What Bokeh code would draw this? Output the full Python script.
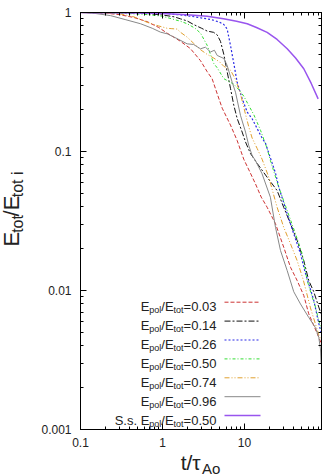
import math
from bokeh.plotting import figure
from bokeh.layouts import column, row
from bokeh.models import (LogAxis, FixedTicker, CustomJSTickFormatter, Label,
                          Arrow, Range1d)
from bokeh.core.properties import value
from bokeh.embed import file_html
from bokeh.resources import INLINE

# ---------------- data ----------------
t_003 = [0.1, 0.2, 0.3, 0.45, 0.65, 0.9, 1.14, 1.4, 1.66, 2.19, 2.91, 3.51, 4.03, 4.65, 5.35,
         6.75, 8.14, 9.8, 11.8, 13.6, 16, 18.9, 23.9, 30.1, 36.4, 43.9, 52.9, 60.8, 70, 77.1, 86]
e_003 = [1.0, 0.99, 0.965, 0.92, 0.86, 0.78, 0.71, 0.66, 0.62, 0.55, 0.45, 0.375, 0.334, 0.26, 0.205,
         0.155, 0.12, 0.088, 0.07, 0.0586, 0.047, 0.0397, 0.0302, 0.0205, 0.0147, 0.0118, 0.0092,
         0.0068, 0.0056, 0.0049, 0.0042]

t_014 = [0.1, 0.3, 0.6, 1.0, 1.4, 1.66, 2.0, 2.39, 3.0, 3.51, 4.2, 4.65, 5.1, 5.6, 6.15, 6.75,
         7.41, 8.14, 9.37, 10.3, 11.8, 14.3, 18.9, 25.0, 30.1, 36.4, 43.9, 52.9, 60.8, 70, 80.6, 86]
e_014 = [1.0, 0.997, 0.985, 0.96, 0.93, 0.9, 0.87, 0.82, 0.77, 0.735, 0.72, 0.69, 0.62, 0.5, 0.375,
         0.285, 0.215, 0.173, 0.138, 0.117, 0.097, 0.082, 0.0653, 0.0524, 0.0397, 0.0302, 0.0229,
         0.0164, 0.0118, 0.0098, 0.0076, 0.0068]

t_026 = [0.1, 0.5, 1.0, 1.66, 2.5, 3.5, 4.22, 5.0, 5.6, 6.15, 6.75, 7.41, 8.14, 9.37, 10.8, 12.4,
         14.3, 16.4, 18.0, 20.7, 23.9, 26.2, 33.2, 39.9, 48.2, 55, 63.8, 70, 80.6, 86]
e_026 = [1.0, 0.998, 0.99, 0.96, 0.93, 0.9, 0.88, 0.85, 0.82, 0.76, 0.58, 0.43, 0.315, 0.24, 0.192,
         0.172, 0.146, 0.125, 0.115, 0.09, 0.07, 0.0554, 0.0356, 0.0256, 0.0184, 0.0135, 0.0102,
         0.0085, 0.0058, 0.005]

t_050 = [0.1, 0.334, 0.6, 1.0, 1.3, 1.66, 2.0, 2.5, 2.91, 3.51, 4.22, 4.65, 5.6, 6.15, 7.41, 8.94,
         9.8, 11.3, 13.0, 15.7, 18.9, 20.7, 26.2, 33.2, 41.9, 50.6, 58.2, 66, 73.5, 80, 86]
e_050 = [1.0, 0.985, 0.97, 0.94, 0.9, 0.865, 0.83, 0.77, 0.71, 0.58, 0.43, 0.4, 0.334, 0.324, 0.305,
         0.27, 0.25, 0.214, 0.184, 0.142, 0.105, 0.0861, 0.0554, 0.0376, 0.0256, 0.0184, 0.0118,
         0.0092, 0.0076, 0.0062, 0.0053]

t_074 = [0.1, 0.3, 0.45, 0.65, 0.9, 1.14, 1.3, 1.51, 1.66, 2.0, 2.4, 2.91, 3.5, 4.22, 5.0, 5.6,
         6.75, 7.77, 8.94, 10.3, 11.3, 12.4, 14.3, 16.4, 19.8, 25.0, 30.1, 36.4, 43.9, 52, 63.8, 73,
         80.6, 86]
e_074 = [1.0, 0.98, 0.93, 0.85, 0.8, 0.77, 0.765, 0.76, 0.72, 0.665, 0.6, 0.54, 0.5, 0.47, 0.44,
         0.41, 0.385, 0.33, 0.26, 0.185, 0.15, 0.125, 0.105, 0.088, 0.0653, 0.0397, 0.0285, 0.0217,
         0.0164, 0.012, 0.0075, 0.0058, 0.0048, 0.0044]

t_096 = [0.1, 0.15, 0.232, 0.35, 0.54, 0.75, 0.946, 1.14, 1.5, 2.0, 2.39, 2.91, 3.34, 3.85, 4.3,
         4.65, 5.6, 6.15, 7.08, 7.77, 8.94, 10.3, 11.3, 12.4, 13.6, 16.4, 20.7, 23.9, 27.5, 33.2,
         39.9, 48.2, 60.8, 73.5, 80.6, 84.5, 86]
e_096 = [1.0, 0.985, 0.95, 0.89, 0.83, 0.77, 0.722, 0.703, 0.65, 0.595, 0.589, 0.548, 0.563, 0.52,
         0.535, 0.491, 0.467, 0.416, 0.315, 0.267, 0.182, 0.138, 0.11, 0.0936, 0.0861, 0.0691,
         0.0469, 0.0285, 0.0194, 0.0139, 0.0098, 0.008, 0.0064, 0.0054, 0.0046, 0.0038, 0.003]

t_ss = [0.1, 0.5, 1.0, 2.0, 3.5, 5.55, 8.0, 10.8, 14.0, 18.9, 25.0, 33.2, 42.0, 52.9, 65.0, 79.2]
e_ss = [1.0, 0.99, 0.982, 0.965, 0.94, 0.9, 0.865, 0.83, 0.78, 0.72, 0.64, 0.548, 0.47, 0.394,
        0.31, 0.239]

legend_values = ["0.03", "0.14", "0.26", "0.50", "0.74", "0.96", "0.50"]
x_ticks = [0.1, 1, 10]
y_ticks = [0.001, 0.01, 0.1, 1]

# ---------------- styles ----------------
series = [
    (t_003, e_003, "#cc3333", "4 2", 1.0),
    (t_014, e_014, "#111111", "6 2 2 2", 1.0),
    (t_026, e_026, "#2a2ae6", "2 2", 1.2),
    (t_050, e_050, "#33dd33", "3 2 1 2", 1.0),
    (t_074, e_074, "#e0a030", "5 2 1 2 1 2", 1.0),
    (t_096, e_096, "#888888", "solid", 1.0),
    (t_ss, e_ss, "#9955ee", "solid", 1.5),
]

W, H = 325, 476
YW = 28                 # width of the strip holding the y title
MH = 452                # height of the main figure
FL, FR, FT, FB = 80, 321, 12, 429   # frame edges in page pixels
FONT = "Liberation Sans"
TXT = "#222222"

p = figure(width=W - YW, height=MH, x_axis_type="log", y_axis_type="log",
           x_range=Range1d(0.1, 87), y_range=Range1d(0.001, 1),
           output_backend="svg", toolbar_location=None,
           min_border_left=FL - YW, min_border_right=W - FR,
           min_border_top=FT, min_border_bottom=MH - FB)
p.background_fill_color = "white"
p.border_fill_color = "white"
p.outline_line_color = "black"
p.outline_line_width = 1
p.xgrid.visible = False
p.ygrid.visible = False


def minors(lo, hi):
    out = []
    for k in range(lo, hi + 1):
        for m in range(2, 10):
            out.append(m * 10.0 ** k)
    return out


xt = FixedTicker(ticks=x_ticks, minor_ticks=minors(-1, 1))
yt = FixedTicker(ticks=y_ticks, minor_ticks=minors(-3, -1))
fmt = CustomJSTickFormatter(code="return String(Number(tick.toPrecision(3)));")
blank = CustomJSTickFormatter(code="return '';")

bottom = p.below[0]
left = p.left[0]
top = LogAxis()
right = LogAxis()
p.add_layout(top, "above")
p.add_layout(right, "right")

for ax, tk in ((bottom, xt), (left, yt), (top, xt), (right, yt)):
    ax.ticker = tk
    ax.axis_line_color = "black"
    ax.major_tick_in = 6
    ax.major_tick_out = 0
    ax.minor_tick_in = 3
    ax.minor_tick_out = 0
    ax.major_tick_line_color = "black"
    ax.minor_tick_line_color = "black"

for ax in (bottom, left):
    ax.formatter = fmt
    ax.major_label_text_font = FONT
    ax.major_label_text_font_size = "12px"
    ax.major_label_text_color = TXT
bottom.major_label_standoff = 8
left.major_label_standoff = 9

for ax in (top, right):
    ax.formatter = blank
    ax.major_label_text_font_size = "0px"
    ax.major_label_standoff = 0

for xs, ys, col, dash, lw in series:
    p.line(xs, ys, line_color=col, line_dash=dash, line_width=lw)

# ---------------- text helpers ----------------
ADV = {"E": 667, "p": 556, "o": 556, "l": 222, "/": 278, "t": 278, "=": 584, ".": 278,
       "S": 667, "s": 500, " ": 278, "i": 222, "A": 667, "τ": 460}
for d in "0123456789":
    ADV[d] = 556


def tw(s, size):
    return sum(ADV.get(c, 556) for c in s) * size / 1000.0


def lab(px, py, text, size):
    # page-pixel position inside the main frame
    p.add_layout(Label(x=px - FL, y=FB - py, x_units="screen", y_units="screen",
                       text=text, text_font=FONT, text_font_size=f"{size}px",
                       text_color=TXT, text_align="left", text_baseline="alphabetic"))


# legend (right aligned text, line sample on the right)
row_y0, row_dy = 301.7, 18.9
text_right = 216
MAIN, SUB, SUBDROP = 13, 9, 3.5
for i, (val, (xs, ys, col, dash, lw)) in enumerate(zip(legend_values, series)):
    ly = row_y0 + i * row_dy
    prefix = "S.s. E" if i == 6 else "E"
    pieces = [(prefix, MAIN, 0), ("pol", SUB, SUBDROP), ("/E", MAIN, 0),
              ("tot", SUB, SUBDROP), ("=" + val, MAIN, 0)]
    total = sum(tw(s, sz) for s, sz, _ in pieces)
    x = text_right - total
    base = ly + 4.6
    for s, sz, dy in pieces:
        lab(x, base + dy, s, sz)
        x += tw(s, sz)
    p.add_layout(Arrow(x_start=224 - FL, y_start=FB - ly, x_end=260 - FL, y_end=FB - ly,
                       start_units="screen", end_units="screen", start=None, end=None,
                       line_color=col, line_dash=dash, line_width=lw))


def strip(w, h):
    f = figure(width=w, height=h, x_range=Range1d(0, w), y_range=Range1d(h, 0),
               output_backend="svg", toolbar_location=None, min_border=0,
               x_axis_location=None, y_axis_location=None)
    f.grid.visible = False
    f.outline_line_color = None
    f.background_fill_color = "white"
    f.border_fill_color = "white"
    return f


GLYPH_SHIFT = 0.3   # the text glyph sits this fraction of its size below its anchor


def ptext(f, x, y, s, size, angle=0.0):
    f.text(x=[x], y=[y], text=[s], text_font=value(FONT), text_font_size=value(f"{size}px"),
           text_color=TXT, text_align="left", text_baseline="alphabetic",
           text_line_height=1.0, angle=angle)


# y title strip: E_tot / E_tot i, rotated (baseline column at x = 17.5)
yf = strip(YW, MH)
YM, YS = 22, 16
ypieces = [("E", YM, 0), ("tot", YS, 4.5), ("/E", YM, 0), ("tot i", YS, 4.5)]
ylen = sum(tw(s, sz) for s, sz, _ in ypieces)
by = 214 + ylen / 2
bx = 17.5
for s, sz, dx in ypieces:
    ptext(yf, bx + dx - GLYPH_SHIFT * sz, by, s, sz, angle=math.pi / 2)
    by -= tw(s, sz)

# x title strip: t/tau_Ao
XH = H - MH
xf = strip(W, XH)
XM, XS = 21, 15
xw = tw("t/τ", XM) + tw("Ao", XS)
x0 = 200 - xw / 2
ptext(xf, x0, 468 - MH - GLYPH_SHIFT * XM, "t/τ", XM)
ptext(xf, x0 + tw("t/τ", XM), 472.5 - MH - GLYPH_SHIFT * XS, "Ao", XS)

layout = column(row(yf, p, spacing=0), xf, spacing=0)
open("out.html", "w").write(file_html(layout, INLINE))
